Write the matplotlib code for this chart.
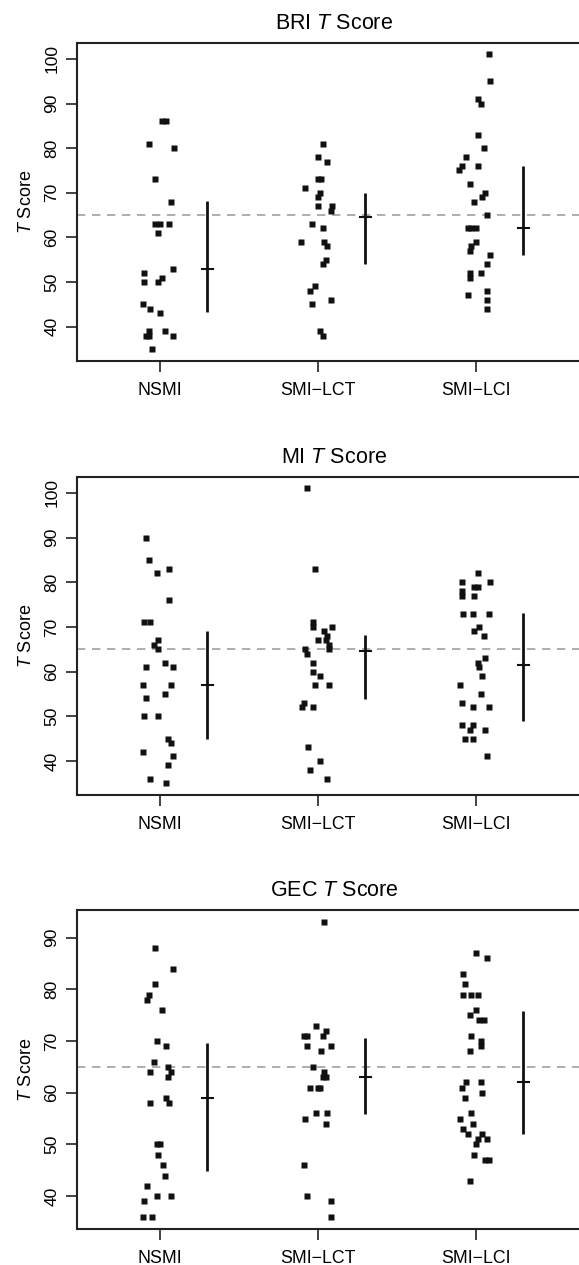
import numpy as np
import matplotlib
matplotlib.use('Agg')
import matplotlib.pyplot as plt

plt.rcParams['font.family'] = ['Liberation Sans', 'DejaVu Sans']
plt.rcParams['mathtext.fontset'] = 'custom'
plt.rcParams['mathtext.it'] = 'Liberation Sans:italic'
plt.rcParams['mathtext.rm'] = 'Liberation Sans'

groups = ['NSMI', 'SMI\u2212LCT', 'SMI\u2212LCI']
titles = ['BRI $T$ Score', 'MI $T$ Score', 'GEC $T$ Score']

# ---- BRI ----
bri_nsmi = [86, 86, 81, 80, 73, 68, 63, 63, 63, 61, 53, 52, 51, 50, 50, 45, 44, 43, 39, 39, 38, 38, 38, 35]
bri_nsmi_jit = [0.01, 0.04, -0.07, 0.09, -0.03, 0.07, -0.03, 0.0, 0.06, -0.01, 0.08, -0.10, 0.01, -0.10, -0.01,
                -0.11, -0.06, 0.0, -0.07, 0.03, -0.09, -0.07, 0.08, -0.05]
bri_lct = [81, 78, 77, 73, 73, 71, 70, 69, 67, 67, 66, 63, 62, 59, 59, 58, 55, 54, 49, 48, 46, 45, 39, 38]
bri_lct_jit = [0.03, 0.0, 0.06, 0.0, 0.02, -0.08, 0.01, 0.0, 0.0, 0.09, 0.08, -0.04, 0.03, -0.11, 0.04, 0.06,
               0.05, 0.03, -0.02, -0.05, 0.08, -0.04, 0.01, 0.03]
bri_lci = [101, 95, 91, 90, 83, 80, 78, 76, 75, 76, 72, 70, 69, 68, 65, 62, 62, 62, 59, 58, 57, 56, 54, 52, 51,
           52, 47, 48, 46, 44]
bri_lci_jit = [0.08, 0.09, 0.01, 0.03, 0.01, 0.05, -0.06, -0.09, -0.11, 0.01, -0.04, 0.06, 0.04, -0.01, 0.07,
               -0.05, -0.03, 0.0, 0.0, -0.03, -0.04, 0.09, 0.07, -0.04, -0.04, 0.03, -0.05, 0.07, 0.07, 0.07]
bri_center = [53, 64.5, 62]
bri_low = [43.3, 54, 56]
bri_high = [68.1, 70, 76]

# ---- MI ----
mi_nsmi = [90, 85, 82, 83, 76, 71, 71, 67, 66, 65, 61, 62, 61, 57, 57, 54, 55, 50, 50, 45, 44, 42, 41, 39, 36, 35]
mi_nsmi_jit = [-0.09, -0.07, -0.02, 0.06, 0.06, -0.10, -0.06, -0.01, -0.04, -0.01, -0.09, 0.03, 0.08, -0.11,
               0.07, -0.09, 0.03, -0.10, -0.01, 0.05, 0.07, -0.11, 0.08, 0.05, -0.06, 0.04]
mi_lct = [101, 83, 71, 70, 70, 69, 68, 67, 67, 66, 65, 65, 64, 62, 60, 59, 57, 57, 53, 52, 52, 43, 40, 38, 36]
mi_lct_jit = [-0.07, -0.02, -0.03, -0.03, 0.09, 0.04, 0.06, 0.0, 0.05, 0.07, 0.07, -0.08, -0.07, -0.03, -0.03,
              0.01, -0.02, 0.07, -0.09, -0.10, -0.03, -0.06, 0.01, -0.05, 0.06]
mi_lci = [82, 80, 80, 79, 79, 78, 77, 77, 73, 73, 73, 70, 69, 68, 63, 62, 61, 59, 57, 55, 53, 52, 52, 48, 48,
          47, 47, 45, 45, 41]
mi_lci_jit = [0.01, -0.09, 0.09, -0.01, 0.01, -0.09, -0.09, -0.01, -0.08, -0.02, 0.08, 0.02, -0.01, 0.05, 0.06,
              0.01, 0.02, 0.04, -0.10, 0.03, -0.09, -0.02, 0.08, -0.09, -0.02, -0.04, 0.06, -0.07, -0.02, 0.07]
mi_center = [57, 64.5, 61.5]
mi_low = [44.8, 53.8, 48.9]
mi_high = [69.1, 68.1, 73.2]

# ---- GEC ----
gec_nsmi = [88, 84, 81, 79, 78, 76, 70, 69, 66, 64, 65, 64, 63, 58, 59, 58, 50, 50, 48, 46, 44, 42, 39, 40, 40,
            36, 36]
gec_nsmi_jit = [-0.03, 0.08, -0.03, -0.07, -0.08, 0.01, -0.02, 0.04, -0.04, -0.06, 0.05, 0.07, 0.05, -0.06,
                0.04, 0.06, -0.02, 0.0, -0.01, 0.02, 0.03, -0.08, -0.10, -0.02, 0.07, -0.11, -0.05]
gec_lct = [93, 73, 71, 71, 72, 71, 69, 69, 68, 65, 64, 63, 63, 61, 61, 61, 55, 56, 56, 54, 46, 40, 39, 36]
gec_lct_jit = [0.04, -0.01, -0.09, -0.07, 0.05, 0.03, -0.07, 0.08, 0.02, -0.03, 0.04, 0.03, 0.05, -0.05, 0.0,
               0.01, -0.08, -0.01, 0.06, 0.05, -0.09, -0.07, 0.08, 0.08]
gec_lci = [87, 86, 83, 81, 79, 79, 79, 76, 75, 74, 74, 71, 70, 69, 68, 62, 61, 62, 60, 59, 55, 56, 53, 52, 54,
           52, 51, 51, 50, 48, 47, 47, 43]
gec_lci_jit = [0.0, 0.07, -0.08, -0.07, -0.08, -0.03, 0.01, 0.0, -0.04, 0.02, 0.05, -0.03, 0.03, 0.03, -0.04,
               -0.06, -0.09, 0.03, 0.04, -0.07, -0.10, -0.03, -0.08, -0.05, -0.02, 0.04, 0.07, 0.01, 0.0, -0.01,
               0.06, 0.08, -0.04]
gec_center = [59, 63, 62]
gec_low = [44.8, 55.9, 52.1]
gec_high = [69.6, 70.6, 75.9]

panels = [
    ([bri_nsmi, bri_lct, bri_lci], [bri_nsmi_jit, bri_lct_jit, bri_lci_jit], bri_center, bri_low, bri_high,
     np.arange(40, 101, 10)),
    ([mi_nsmi, mi_lct, mi_lci], [mi_nsmi_jit, mi_lct_jit, mi_lci_jit], mi_center, mi_low, mi_high,
     np.arange(40, 101, 10)),
    ([gec_nsmi, gec_lct, gec_lci], [gec_nsmi_jit, gec_lct_jit, gec_lci_jit], gec_center, gec_low, gec_high,
     np.arange(40, 91, 10)),
]

W, H = 579, 1265
fig = plt.figure(figsize=(W / 100, H / 100), dpi=100)
tops = [42.7, 476.7, 910.3]
bots = [360.7, 795.0, 1228.7]
left_px = 77.3
ax_w = 1.0  # axes runs past the right edge, as in the cropped original

for i, (vals, jits, cen, lo, hi, yt) in enumerate(panels):
    ax = fig.add_axes([left_px / W, 1 - bots[i] / H, ax_w, (bots[i] - tops[i]) / H])
    allv = np.concatenate([np.array(v, float) for v in vals])
    rng = allv.max() - allv.min()
    ax.set_ylim(allv.min() - 0.04 * rng, allv.max() + 0.04 * rng)
    ax.set_xlim(0.477, 0.477 + ax_w * W / 158)

    ax.axhline(65, color='#a0a0a0', lw=1.2, ls=(0, (5, 4)), zorder=1)
    for g in range(3):
        xs = (g + 1) + np.array(jits[g])
        ax.plot(xs, vals[g], 's', ms=4.2, color='#111111', mec='none', zorder=3)
        xe = g + 1 + 0.3
        ax.plot([xe, xe], [lo[g], hi[g]], color='#111111', lw=2, solid_capstyle='butt')
        ax.plot([xe - 0.035, xe + 0.035], [cen[g], cen[g]], color='#111111', lw=1.5)

    ax.set_xticks([1, 2, 3])
    ax.set_xticklabels(groups, fontsize=12.8)
    ax.set_yticks(yt)
    ax.set_yticklabels([str(v) for v in yt], rotation=90, va='center', fontsize=12.5)
    ax.tick_params(axis='both', direction='out', length=8, width=1.2, color='#222222', pad=5)
    ax.tick_params(axis='x', pad=7)
    ax.set_ylabel('$T$ Score', fontsize=13, labelpad=7)
    ax.set_title(titles[i], fontsize=15.5, pad=10, x=(334 - left_px) / (ax_w * W))
    for s in ax.spines.values():
        s.set_linewidth(1.5)
        s.set_color('#222222')
    ax.spines['right'].set_visible(False)

fig.savefig('out.png', dpi=100)
